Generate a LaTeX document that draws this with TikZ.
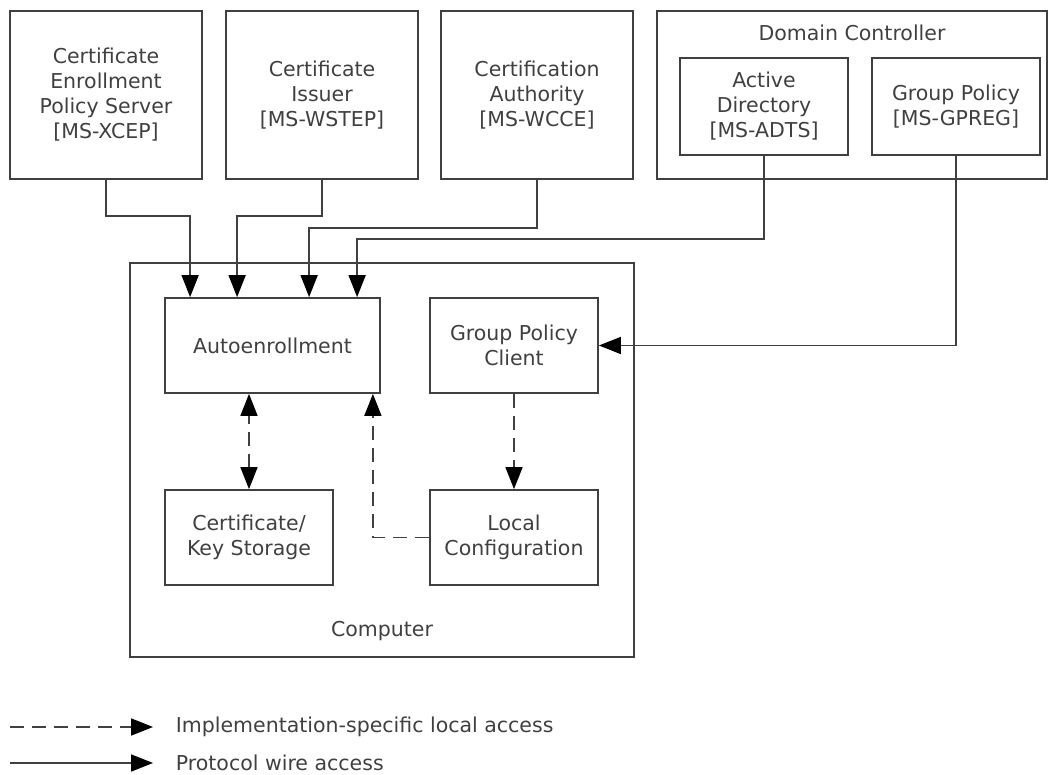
\documentclass[tikz,border=0pt]{standalone}
\usepackage{fontspec}
\setmainfont{DejaVu Sans}
\usetikzlibrary{arrows.meta}

\begin{document}
\begin{tikzpicture}[x=1pt, y=-1pt, line width=1.8pt, color=black!75,
    font=\fontsize{20.5}{25}\selectfont, >={Triangle[length=22pt,width=17pt,color=black]},
    big/.style={draw, minimum width=192pt, minimum height=168pt, align=center, inner sep=0pt},
    box/.style={draw, minimum width=168pt, minimum height=95pt, align=center, inner sep=0pt},
    impl/.style={dash pattern=on 14pt off 8pt}]
  \useasboundingbox (0,0) rectangle (1053,775);

  \node[big] (xcep) at (106,95) {Certificate\\Enrollment\\Policy Server\\{[MS-XCEP]}};
  \node[big] (wstep) at (322,95) {Certificate\\Issuer\\{[MS-WSTEP]}};
  \node[big] (wcce) at (537,95) {Certification\\Authority\\{[MS-WCCE]}};
  \node[draw, minimum width=390pt, minimum height=168pt] (dc) at (852,95) {};
  \node (dclbl) at (852,33) {Domain Controller};
  \node[box, minimum height=97pt] (ad) at (764,106.5) {Active\\Directory\\{[MS-ADTS]}};
  \node[box, minimum height=97pt] (gp) at (956,106.5) {Group Policy\\{[MS-GPREG]}};

  \node[draw, minimum width=504pt, minimum height=394pt] (comp) at (382,460) {};
  \node (complbl) at (382,631) {Computer};
  \node[box, minimum width=215pt] (auto) at (272.5,345.5) {Autoenrollment};
  \node[box] (gpc) at (514,345.5) {Group Policy\\Client};
  \node[box] (store) at (249,537.5) {Certificate/\\Key Storage};
  \node[box] (local) at (514,537.5) {Local\\Configuration};

  \draw[->] (xcep.south) -- ++(0,36) -| ([xshift=26pt]auto.north west);
  \draw[->] (wstep.south) -- ++(0,36) -| ([xshift=73pt]auto.north west);
  \draw[->] (wcce.south) -- ++(0,48) -| ([xshift=145pt]auto.north west);
  \draw[->] (ad.south) -- ++(0,83) -| ([xshift=193pt]auto.north west);
  \draw[->] (gp.south) |- (gpc.east);

  \draw[impl, <->] (store.north) -- (store.north |- auto.south);
  \draw[impl, ->] (gpc) -- (local);
  \draw[impl, ->] (local.west) -| ([xshift=-8pt]auto.south east);

  \coordinate (k1) at (10,727);
  \coordinate (k2) at (10,763);
  \node[anchor=west, inner sep=0pt] (ktxt1) at (175,727) {Implementation-specific local access};
  \node[anchor=west, inner sep=0pt] (ktxt2) at (175,763) {Protocol wire access};
  \draw[impl, ->] (k1) -- ([xshift=-22pt]ktxt1.west);
  \draw[->] (k2) -- ([xshift=-22pt]ktxt2.west);
\end{tikzpicture}
\end{document}
